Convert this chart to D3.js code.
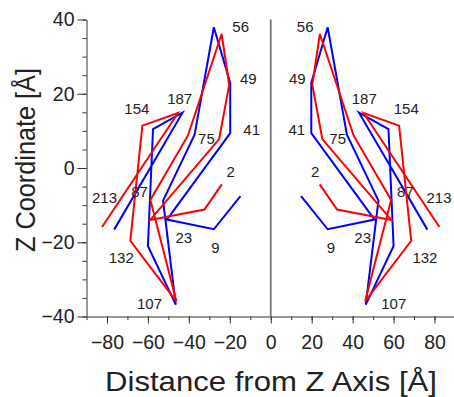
<!DOCTYPE html>
<html lang="en">
<head>
<meta charset="UTF-8">
<title>Z Coordinate vs Distance from Z Axis</title>
<script src="https://d3js.org/d3.v7.min.js"></script>
<style>
  body { margin: 0; background: #fff; }
  text { font-family: "Liberation Sans", Arial, sans-serif; fill: #222; }
</style>
</head>
<body>
<div id="chart"></div>
<script>
// residue numbers along the chain
var residues = ["2", "9", "23", "41", "49", "56", "75", "87", "107", "132", "154", "187", "213"];

// distance from Z axis (drawn on both sides, mirrored) and Z coordinate
var blueDist = [14.8, 27.8, 50.7, 19.8, 19.8, 27.8, 37.2, 52.6, 46.4, 60.0, 57.5, 43.1, 76.5];
var blueZ    = [-7.6, -16.5, -13.9, 9.4, 22.9, 37.9, 9.0, -8.8, -36.8, -21.0, 10.5, 14.9, -16.6];
var redDist  = [23.9, 32.4, 58.9, 25.2, 20.3, 24.0, 40.5, 58.8, 46.1, 68.6, 62.7, 45.3, 82.4];
var redZ     = [-4.4, -11.2, -14.0, 7.8, 22.4, 36.1, 8.7, -8.6, -35.9, -19.6, 11.4, 14.8, -15.9];

// where the residue labels sit (in data units)
var labelDistLeft  = [19.6, 27.0, 42.5, 9.3, 11.0, 14.7, 31.4, 64.1, 59.2, 73.0, 65.4, 44.5, 81.2];
var labelDistRight = [21.7, 29.4, 44.9, 12.7, 13.0, 16.8, 32.7, 65.8, 60.1, 75.3, 66.2, 45.7, 82.2];
var labelZ         = [-1.0, -21.3, -18.7, 10.5, 24.0, 38.0, 8.0, -6.4, -36.4, -24.1, 15.9, 18.6, -8.0];

var xTicks = [-80, -60, -40, -20, 0, 20, 40, 60, 80];
var yTicks = [-40, -20, 0, 20, 40];

var W = 454, H = 397;

var svg = d3.select("#chart").append("svg")
    .attr("width", W)
    .attr("height", H);

var x = d3.scaleLinear().domain([-90, 90]).range([86.5, 455]);
var y = d3.scaleLinear().domain([-40, 40]).range([316.5, 19.5]);

// minor ticks
svg.append("g")
    .attr("transform", "translate(0," + y(-40) + ")")
    .call(d3.axisBottom(x).tickValues(d3.range(-90, 91, 10)).tickSize(3.5).tickFormat(""))
    .call(function(g) { g.select(".domain").remove(); g.selectAll("line").attr("stroke", "#333"); });
svg.append("g")
    .attr("transform", "translate(" + x(-90) + ",0)")
    .call(d3.axisLeft(y).tickValues(d3.range(-40, 41, 5)).tickSize(4).tickFormat(""))
    .call(function(g) { g.select(".domain").remove(); g.selectAll("line").attr("stroke", "#333"); });

// major axes
var xAxis = svg.append("g")
    .attr("transform", "translate(0," + y(-40) + ")")
    .call(d3.axisBottom(x).tickValues(xTicks).tickSize(7).tickPadding(11.5).tickSizeOuter(0));
var yAxis = svg.append("g")
    .attr("transform", "translate(" + x(-90) + ",0)")
    .call(d3.axisLeft(y).tickValues(yTicks).tickSize(9).tickPadding(3).tickSizeOuter(0));

[xAxis, yAxis].forEach(function(g) {
  g.select(".domain").attr("stroke", "#333");
  g.selectAll("line").attr("stroke", "#333");
  g.selectAll("text").attr("fill", "#222")
    .style("font-family", "'Liberation Sans', Arial, sans-serif")
    .style("font-size", "19.5px");
});

// zero line
svg.append("line")
    .attr("x1", x(0)).attr("x2", x(0))
    .attr("y1", y(40)).attr("y2", y(-40))
    .attr("stroke", "#777")
    .attr("stroke-width", 1.8);

// polylines, mirrored on both sides
var line = d3.line().x(function(d) { return x(d[0]); }).y(function(d) { return y(d[1]); });

function drawSeries(dist, z, color) {
  [-1, 1].forEach(function(side) {
    var pts = dist.map(function(d, i) { return [side * d, z[i]]; });
    svg.append("path")
      .datum(pts)
      .attr("d", line)
      .attr("fill", "none")
      .attr("stroke", color)
      .attr("stroke-width", 2)
      .attr("stroke-linejoin", "miter");
  });
}
drawSeries(blueDist, blueZ, "#0000ff");
drawSeries(redDist, redZ, "#ff0000");

// residue labels
function drawLabels(dist, side) {
  svg.append("g").selectAll("text")
    .data(residues)
    .enter().append("text")
      .attr("x", function(d, i) { return x(side * dist[i]); })
      .attr("y", function(d, i) { return y(labelZ[i]); })
      .attr("text-anchor", "middle")
      .attr("dominant-baseline", "central")
      .style("font-size", "15px")
      .text(function(d) { return d; });
}
drawLabels(labelDistLeft, -1);
drawLabels(labelDistRight, 1);

// axis titles
svg.append("text")
    .attr("x", 271)
    .attr("y", 391)
    .attr("text-anchor", "middle")
    .attr("textLength", 332)
    .attr("lengthAdjust", "spacingAndGlyphs")
    .style("font-size", "28px")
    .text("Distance from Z Axis [Å]");

svg.append("text")
    .attr("transform", "translate(35,160) rotate(-90)")
    .attr("text-anchor", "middle")
    .attr("textLength", 184)
    .attr("lengthAdjust", "spacingAndGlyphs")
    .style("font-size", "28px")
    .text("Z Coordinate [Å]");
</script>
</body>
</html>
